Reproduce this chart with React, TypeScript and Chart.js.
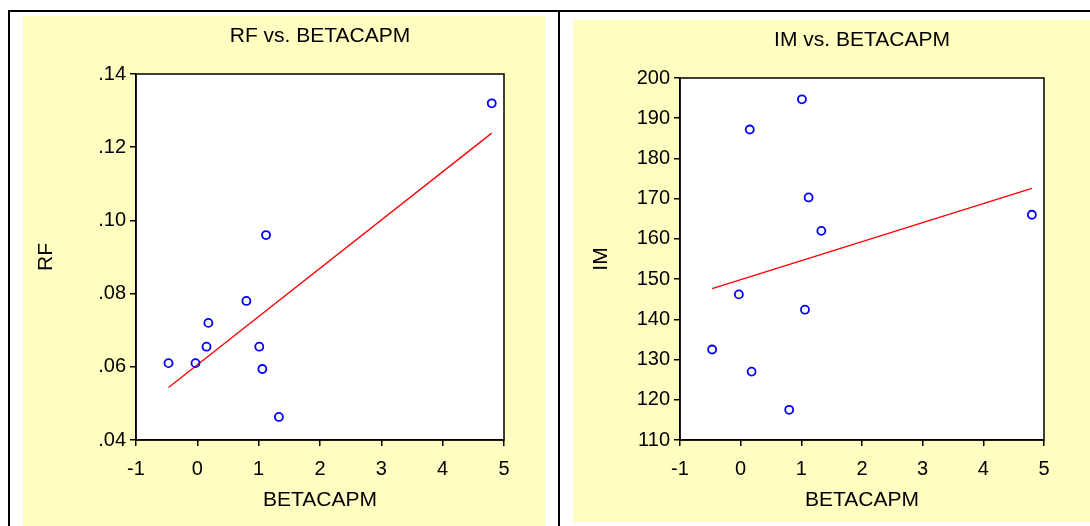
import React, { useEffect, useRef } from 'react';
import { Chart, registerables } from 'chart.js';

Chart.register(...registerables);

// ---- data ----
const BETACAPM = [-0.47, -0.03, 0.15, 0.18, 0.8, 1.01, 1.06, 1.12, 1.33, 4.8];
const RF = [0.061, 0.061, 0.0655, 0.072, 0.078, 0.0655, 0.0594, 0.096, 0.0463, 0.132];
const IM = [132.5, 146.2, 187.2, 127.0, 117.5, 194.7, 142.4, 170.3, 162.0, 166.0];

const X_TICKS = [-1, 0, 1, 2, 3, 4, 5];
const RF_TICKS = [0.04, 0.06, 0.08, 0.1, 0.12, 0.14];
const IM_TICKS = [110, 120, 130, 140, 150, 160, 170, 180, 190, 200];

const FONT = 'Liberation Sans, Arial, sans-serif';
const YELLOW = '#FFFDC0';
const INK = '#000';

// least-squares fit line between min and max x
function fitLine(xs: number[], ys: number[]) {
  const n = xs.length;
  const mx = xs.reduce((a, b) => a + b, 0) / n;
  const my = ys.reduce((a, b) => a + b, 0) / n;
  let sxy = 0;
  let sxx = 0;
  for (let i = 0; i < n; i++) {
    sxy += (xs[i] - mx) * (ys[i] - my);
    sxx += (xs[i] - mx) * (xs[i] - mx);
  }
  const b = sxy / sxx;
  const a = my - b * mx;
  const x0 = Math.min(...xs);
  const x1 = Math.max(...xs);
  return [
    { x: x0, y: a + b * x0 },
    { x: x1, y: a + b * x1 },
  ];
}

const framePlugin = {
  id: 'plotFrame',
  beforeDraw(chart: any) {
    const { ctx, chartArea: c } = chart;
    ctx.save();
    ctx.fillStyle = '#ffffff';
    ctx.fillRect(c.left, c.top, c.right - c.left, c.bottom - c.top);
    ctx.restore();
  },
  afterDraw(chart: any) {
    const { ctx, chartArea: c } = chart;
    ctx.save();
    ctx.strokeStyle = INK;
    ctx.lineWidth = 1.5;
    ctx.strokeRect(c.left, c.top, c.right - c.left, c.bottom - c.top);
    ctx.restore();
  },
};

type PanelProps = {
  title: string;
  yLabel: string;
  ys: number[];
  yTicks: number[];
  fmt: (v: number) => string;
  width: number;
  height: number;
  yAxisWidth: number;
  xAxisHeight: number;
  rightPad: number;
  yTitlePad: number;
  xTitlePad: number;
};

function Panel(p: PanelProps) {
  const ref = useRef<HTMLCanvasElement | null>(null);
  useEffect(() => {
    if (!ref.current) return;
    const pts = BETACAPM.map((x, i) => ({ x, y: p.ys[i] }));
    const line = fitLine(BETACAPM, p.ys);
    const tickFont = { family: FONT, size: 20, lineHeight: 1.2 };
    const labelFont = { family: FONT, size: 21, weight: 'normal', lineHeight: 1.2 };
    const chart = new Chart(ref.current, {
      type: 'scatter',
      data: {
        datasets: [
          {
            type: 'scatter',
            data: pts,
            pointStyle: 'circle',
            pointRadius: 4,
            pointBorderWidth: 1.8,
            pointBorderColor: '#0000FF',
            pointBackgroundColor: 'rgba(255,255,255,0)',
            order: 0,
          } as any,
          {
            type: 'line',
            data: line,
            borderColor: '#FF0000',
            borderWidth: 1.3,
            pointRadius: 0,
            showLine: true,
            fill: false,
            order: 1,
          } as any,
        ],
      },
      options: {
        animation: false,
        responsive: false,
        layout: { padding: { left: 0, right: p.rightPad, top: 0, bottom: 0 } },
        plugins: {
          legend: { display: false },
          tooltip: { enabled: false },
          title: {
            display: true,
            text: p.title,
            fullSize: false,
            color: INK,
            font: labelFont,
            padding: { top: 8, bottom: 24.8 },
          },
        },
        scales: {
          x: {
            type: 'linear',
            min: -1,
            max: 5,
            afterBuildTicks: (s: any) => {
              s.ticks = X_TICKS.map((v) => ({ value: v }));
            },
            afterFit: (s: any) => {
              s.height = p.xAxisHeight;
            },
            grid: {
              drawOnChartArea: false,
              drawTicks: true,
              tickLength: 6,
              color: INK,
              lineWidth: 1.5,
            },
            border: { display: true, color: INK, width: 1.5 },
            ticks: {
              color: INK,
              font: tickFont,
              padding: 11,
              maxRotation: 0,
              autoSkip: false,
              callback: (v: any) => String(v),
            },
            title: {
              display: true,
              text: 'BETACAPM',
              color: INK,
              font: labelFont,
              padding: { top: 0, bottom: p.xTitlePad },
            },
          },
          y: {
            type: 'linear',
            min: p.yTicks[0],
            max: p.yTicks[p.yTicks.length - 1],
            afterBuildTicks: (s: any) => {
              s.ticks = p.yTicks.map((v) => ({ value: v }));
            },
            afterFit: (s: any) => {
              s.width = p.yAxisWidth;
            },
            grid: {
              drawOnChartArea: false,
              drawTicks: true,
              tickLength: 6,
              color: INK,
              lineWidth: 1.5,
            },
            border: { display: true, color: INK, width: 1.5 },
            ticks: {
              color: INK,
              font: tickFont,
              padding: 4,
              autoSkip: false,
              callback: (v: any) => p.fmt(Number(v)),
            },
            title: {
              display: true,
              text: p.yLabel,
              color: INK,
              font: labelFont,
              padding: { top: p.yTitlePad, bottom: 0 },
            },
          },
        },
      },
      plugins: [framePlugin],
    } as any);
    return () => chart.destroy();
  }, []);
  return <canvas ref={ref} width={p.width} height={p.height} style={{ display: 'block', width: p.width, height: p.height }} />;
}

const fmtRF = (v: number) => {
  const s = v.toFixed(2);
  return s.startsWith('0') ? s.slice(1) : s;
};
const fmtIM = (v: number) => String(Math.round(v));

export default function App() {
  const black = '#000';
  return (
    <div style={{ position: 'absolute', left: 0, top: 0, width: 1090, height: 526, background: '#fff', overflow: 'hidden' }}>
      <div style={{ position: 'absolute', left: 8, top: 10, width: 1082, height: 2, background: black }} />
      <div style={{ position: 'absolute', left: 8, top: 10, width: 2, height: 516, background: black }} />
      <div style={{ position: 'absolute', left: 558, top: 10, width: 2, height: 516, background: black }} />
      <div style={{ position: 'absolute', left: 23, top: 16, width: 522, height: 510, background: YELLOW }}>
        <Panel
          title="RF vs. BETACAPM"
          yLabel="RF"
          ys={RF}
          yTicks={RF_TICKS}
          fmt={fmtRF}
          width={522}
          height={510}
          yAxisWidth={113}
          xAxisHeight={86}
          rightPad={41}
          yTitlePad={11}
          xTitlePad={13}
        />
      </div>
      <div style={{ position: 'absolute', left: 573, top: 20, width: 517, height: 502, background: YELLOW }}>
        <Panel
          title="IM vs. BETACAPM"
          yLabel="IM"
          ys={IM}
          yTicks={IM_TICKS}
          fmt={fmtIM}
          width={517}
          height={502}
          yAxisWidth={107}
          xAxisHeight={82}
          rightPad={46}
          yTitlePad={16}
          xTitlePad={9}
        />
      </div>
    </div>
  );
}
